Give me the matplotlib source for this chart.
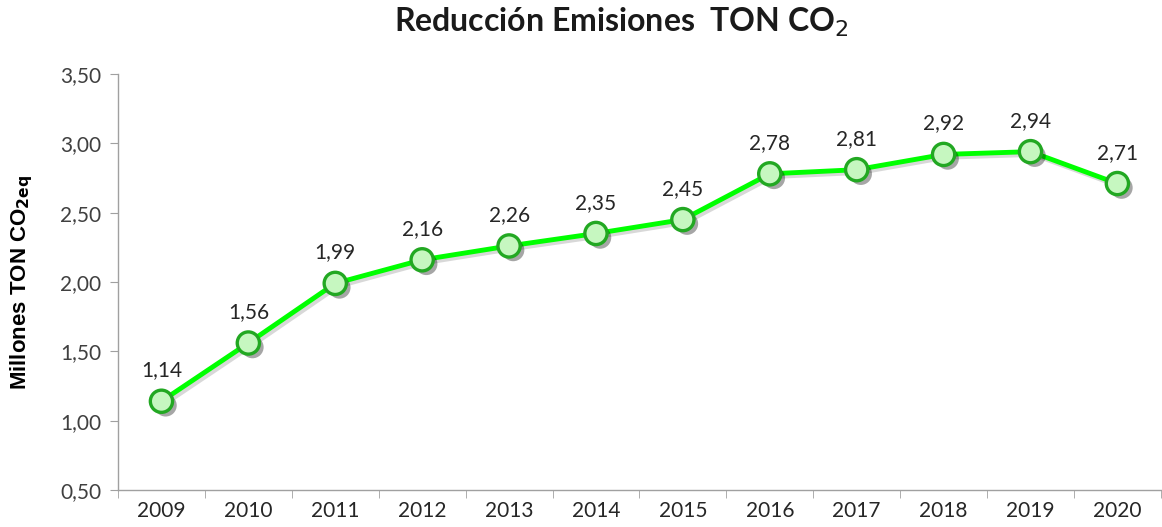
import matplotlib
matplotlib.use("Agg")
import matplotlib.pyplot as plt
import matplotlib.patheffects as pe
from matplotlib.ticker import FixedLocator, NullFormatter

years = ["2009", "2010", "2011", "2012", "2013", "2014", "2015", "2016", "2017", "2018", "2019", "2020"]
values = [1.14, 1.56, 1.99, 2.16, 2.26, 2.35, 2.45, 2.78, 2.81, 2.92, 2.94, 2.71]
yticks = [0.5, 1.0, 1.5, 2.0, 2.5, 3.0, 3.5]

plt.rcParams['font.family'] = ['Lato', 'DejaVu Sans']

fig = plt.figure(figsize=(11.62, 5.27), dpi=100)
ax = fig.add_axes([118/1162, 1 - 490/527, 1 - 118/1162 - 0.001, (490 - 74)/527])

x = list(range(len(years)))
ax.plot(x, values, color="#00ff00", lw=3.5, solid_capstyle="round", zorder=2,
        path_effects=[pe.SimpleLineShadow(offset=(2, -2), shadow_color="gray", alpha=0.3), pe.Normal()])
ax.plot(x, values, ls="none", marker="o", ms=16, mfc="#c6f7c0", mec="#22a822", mew=2.4, zorder=3,
        path_effects=[pe.SimplePatchShadow(offset=(3, -3), shadow_rgbFace="black", alpha=0.35), pe.Normal()])

for xi, v in zip(x, values):
    ax.annotate(f"{v:.2f}".replace(".", ","), (xi, v), xytext=(0, 15), textcoords="offset points",
                ha="center", va="bottom", fontsize=15, color="#262626")

ax.set_xlim(-0.5, len(years) - 0.5)
ax.set_ylim(0.5, 3.5)
ax.set_yticks(yticks)
ax.set_yticklabels([f"{t:.2f}".replace(".", ",") for t in yticks], fontsize=15, color="#404040")
ax.set_xticks(x)
ax.set_xticklabels(years, fontsize=15, color="#262626")
ax.xaxis.set_minor_locator(FixedLocator([i - 0.5 for i in range(len(years) + 1)]))
ax.xaxis.set_minor_formatter(NullFormatter())
ax.tick_params(axis="x", which="major", length=0, pad=8)
ax.tick_params(axis="x", which="minor", length=6, color="#a0a0a0", direction="out")
ax.tick_params(axis="y", length=6, color="#a0a0a0", direction="out", pad=6)

for s in ["top", "right"]:
    ax.spines[s].set_visible(False)
for s in ["left", "bottom"]:
    ax.spines[s].set_color("#a0a0a0")
    ax.spines[s].set_linewidth(1.0)

ax.set_ylabel(r"Millones TON CO$_{\mathbf{2eq}}$", fontsize=16, fontweight="bold",
              family=["Liberation Sans", "DejaVu Sans"], labelpad=18)

fig.text(0.535, 0.957, r"Reducción Emisiones  TON CO$_{2}$", ha="center", va="center",
         fontsize=23, fontweight="bold", color="#1a1a1a")

fig.savefig("out.png", dpi=100)
